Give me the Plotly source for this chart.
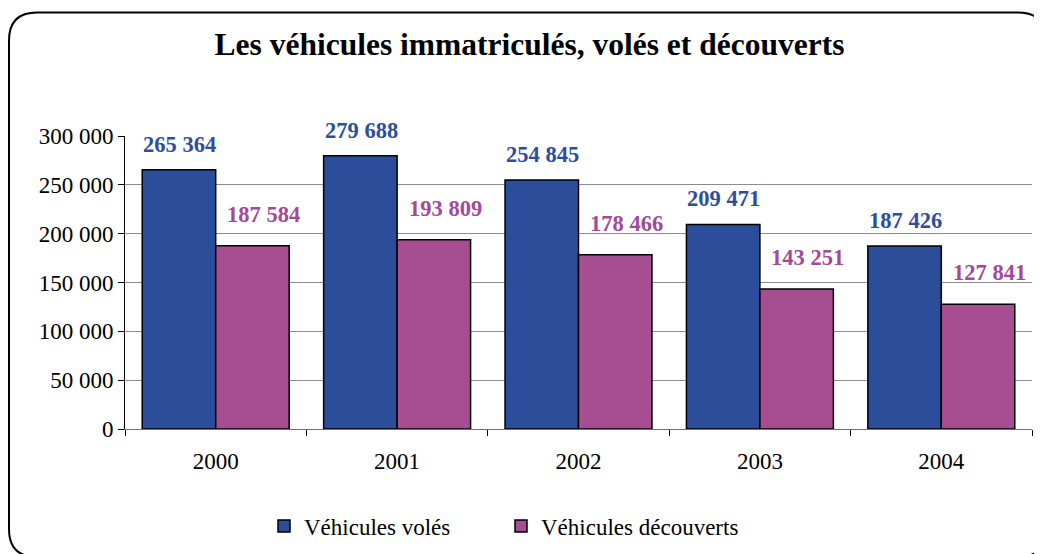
import plotly.graph_objects as go

years = ["2000", "2001", "2002", "2003", "2004"]
voles = [265364, 279688, 254845, 209471, 187426]
decouverts = [187584, 193809, 178466, 143251, 127841]
y_tick_vals = [0, 50000, 100000, 150000, 200000, 250000, 300000]
y_tick_text = ["0", "50 000", "100 000", "150 000", "200 000", "250 000", "300 000"]

BLUE = "#2B4D9A"
MAG = "#A74E93"
OFF = 8  # page body margin
W, H = 1042 - OFF, 554 - OFF
L, R, T, B = 125 - OFF, 10, 136 - OFF, 125
PW, PH = W - L - R, H - T - B


def fmt(v):
    return f"{v:,}".replace(",", " ")


def px(x):  # screen x -> paper
    return (x - OFF - L) / PW


def py(y):  # screen y -> paper
    return (H - B - (y - OFF)) / PH


fig = go.Figure()
fig.add_trace(go.Bar(x=years, y=voles, name="Véhicules volés", legend="legend",
                     marker=dict(color=BLUE, line=dict(color="black", width=1.5))))
fig.add_trace(go.Bar(x=years, y=decouverts, name="Véhicules découverts", legend="legend2",
                     marker=dict(color=MAG, line=dict(color="black", width=1.5))))

annotations = []
for i, v in enumerate(voles):
    annotations.append(dict(x=i, y=v, xref="x", yref="y", text=fmt(v), showarrow=False,
                            xshift=-36, yshift=11, yanchor="bottom",
                            font=dict(family="Liberation Serif", size=22.5, color="#2E4E9C", weight="bold")))
for i, v in enumerate(decouverts):
    annotations.append(dict(x=i, y=v, xref="x", yref="y", text=fmt(v), showarrow=False,
                            xshift=48, yshift=17, yanchor="bottom",
                            font=dict(family="Liberation Serif", size=22.5, color="#A4489A", weight="bold")))

# rounded frame around the chart
x0, x1 = px(9), px(1046)
y0, y1 = py(12.5), py(557)
rx, ry = 28 / PW, 28 / PH
path = (f"M {x0+rx},{y0} L {x1-rx},{y0} Q {x1},{y0} {x1},{y0-ry} "
        f"L {x1},{y1+ry} Q {x1},{y1} {x1-rx},{y1} L {x0+rx},{y1} "
        f"Q {x0},{y1} {x0},{y1+ry} L {x0},{y0-ry} Q {x0},{y0} {x0+rx},{y0} Z")

legend_font = dict(family="Liberation Serif", size=23, color="black")
fig.update_layout(
    width=W, height=H,
    margin=dict(l=L, r=R, t=T, b=B, autoexpand=False),
    paper_bgcolor="white", plot_bgcolor="white",
    font=dict(family="Liberation Serif", color="black"),
    title=dict(text="<b>Les véhicules immatriculés, volés et découverts</b>",
               x=(529.5 - OFF) / W, xanchor="center", xref="container",
               y=1 - (44 - OFF) / H, yanchor="middle", yref="container",
               font=dict(family="Liberation Serif", size=31.5, color="black")),
    barmode="group", bargap=0.19, bargroupgap=0,
    showlegend=True,
    legend=dict(orientation="h", x=px(264), xanchor="left", y=py(526), yanchor="middle",
                font=legend_font),
    legend2=dict(orientation="h", x=px(501), xanchor="left", y=py(526), yanchor="middle",
                 font=legend_font),
    shapes=[dict(type="path", path=path, xref="paper", yref="paper",
                 line=dict(color="black", width=2), layer="above")],
    annotations=annotations,
)
fig.update_yaxes(range=[0, 300000], tickvals=y_tick_vals, ticktext=y_tick_text,
                 showgrid=True, gridcolor="#8C8C8C", gridwidth=1,
                 showline=True, linecolor="black", linewidth=1,
                 ticks="outside", ticklen=6, tickcolor="black",
                 tickfont=dict(family="Liberation Serif", size=23, color="black"),
                 zeroline=False, automargin=False)
fig.update_xaxes(type="category", range=[-0.5, 4.5], tickson="boundaries", ticks="outside", ticklen=6,
                 tickcolor="black", showline=True, linecolor="#707070", linewidth=1,
                 showgrid=False, tickangle=0, automargin=False,
                 tickfont=dict(family="Liberation Serif", size=23, color="black"),
                 ticklabelstandoff=11)

fig.write_html("out.html")
